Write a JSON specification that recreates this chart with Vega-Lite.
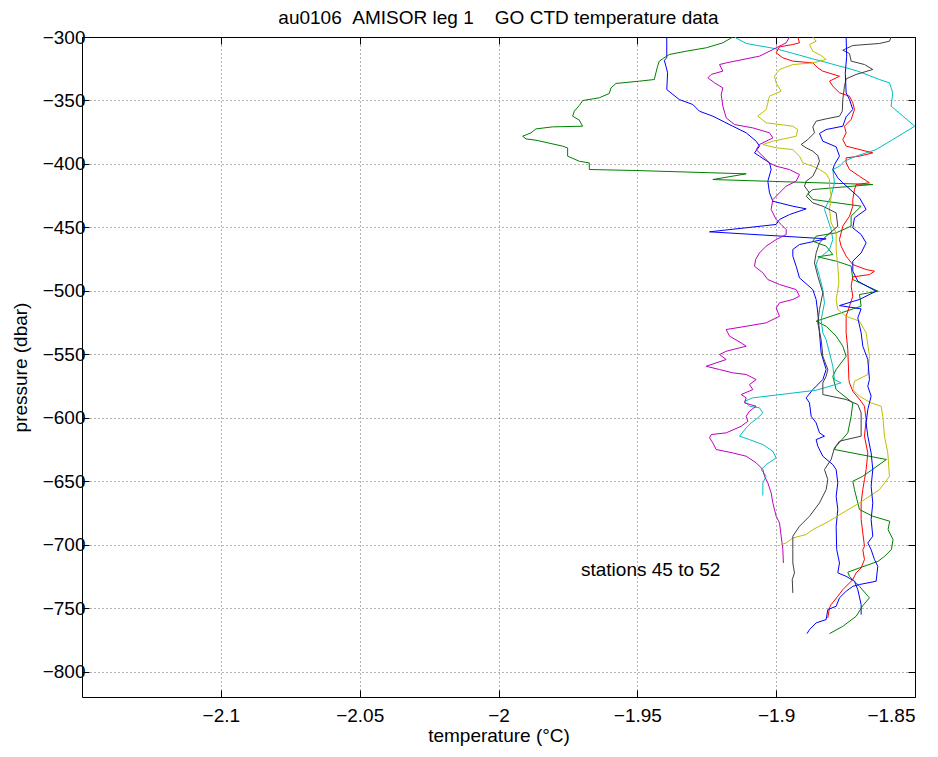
{
 "$schema": "https://vega.github.io/schema/vega-lite/v6.json",
 "width": 833,
 "height": 660,
 "autosize": {"type": "none"},
 "padding": {"left": 82, "top": 37, "right": 23, "bottom": 60},
 "background": "white",
 "config": {
  "view": {"stroke": "black", "strokeWidth": 1},
  "font": "Liberation Sans",
  "axis": {
   "domain": false,
   "tickColor": "black",
   "tickSize": -7,
   "labelColor": "black",
   "labelFontSize": 19,
   "labelFont": "Liberation Sans",
   "titleFont": "Liberation Sans",
   "titleFontSize": 19,
   "titleFontWeight": "normal",
   "titleColor": "black",
   "gridColor": "black",
   "gridDash": [1, 3],
   "gridOpacity": 0.6
  }
 },
 "title": {
  "text": "au0106\u00a0\u00a0AMISOR leg 1\u00a0\u00a0\u00a0\u00a0GO CTD temperature data",
  "fontSize": 19,
  "fontWeight": "normal",
  "font": "Liberation Sans",
  "color": "black",
  "anchor": "middle",
  "baseline": "alphabetic",
  "offset": -15
 },
 "datasets": {
  "ctd": [
{"s":45,"i":1,"t":-1.9394,"p":-300},{"s":45,"i":2,"t":-1.9394,"p":-316.4},{"s":45,"i":3,"t":-1.9403,"p":-318.3},{"s":45,"i":4,"t":-1.9397,"p":-323},{"s":45,"i":5,"t":-1.9391,"p":-328.2},{"s":45,"i":6,"t":-1.9394,"p":-341.4},{"s":45,"i":7,"t":-1.9349,"p":-349.3},{"s":45,"i":8,"t":-1.93,"p":-353.2},{"s":45,"i":9,"t":-1.9276,"p":-358.5},{"s":45,"i":10,"t":-1.9228,"p":-362.4},{"s":45,"i":11,"t":-1.9156,"p":-370.3},{"s":45,"i":12,"t":-1.9108,"p":-375.5},{"s":45,"i":13,"t":-1.9072,"p":-382.1},{"s":45,"i":14,"t":-1.906,"p":-386},{"s":45,"i":15,"t":-1.9078,"p":-391.3},{"s":45,"i":16,"t":-1.906,"p":-393.9},{"s":45,"i":17,"t":-1.9024,"p":-399.2},{"s":45,"i":18,"t":-1.9018,"p":-404.4},{"s":45,"i":19,"t":-1.903,"p":-413.6},{"s":45,"i":20,"t":-1.9024,"p":-422.8},{"s":45,"i":21,"t":-1.9012,"p":-429.4},{"s":45,"i":22,"t":-1.894,"p":-433.3},{"s":45,"i":23,"t":-1.8892,"p":-435.4},{"s":45,"i":24,"t":-1.8952,"p":-439.9},{"s":45,"i":25,"t":-1.8988,"p":-443.8},{"s":45,"i":26,"t":-1.9,"p":-447.7},{"s":45,"i":27,"t":-1.924,"p":-453.5},{"s":45,"i":28,"t":-1.882,"p":-459},{"s":45,"i":29,"t":-1.8916,"p":-463.5},{"s":45,"i":30,"t":-1.894,"p":-467.4},{"s":45,"i":31,"t":-1.894,"p":-472.7},{"s":45,"i":32,"t":-1.8928,"p":-480.6},{"s":45,"i":33,"t":-1.8916,"p":-489.8},{"s":45,"i":34,"t":-1.8868,"p":-499},{"s":45,"i":35,"t":-1.8856,"p":-506.8},{"s":45,"i":36,"t":-1.885,"p":-517.4},{"s":45,"i":37,"t":-1.8844,"p":-533.1},{"s":45,"i":38,"t":-1.8838,"p":-548.9},{"s":45,"i":39,"t":-1.882,"p":-562},{"s":45,"i":40,"t":-1.8832,"p":-569.9},{"s":45,"i":41,"t":-1.8868,"p":-577.8},{"s":45,"i":42,"t":-1.8892,"p":-584.3},{"s":45,"i":43,"t":-1.888,"p":-588.3},{"s":45,"i":44,"t":-1.8874,"p":-598.8},{"s":45,"i":45,"t":-1.8856,"p":-604},{"s":45,"i":46,"t":-1.8844,"p":-611.9},{"s":45,"i":47,"t":-1.8826,"p":-614.5},{"s":45,"i":48,"t":-1.8856,"p":-617.2},{"s":45,"i":49,"t":-1.885,"p":-622.4},{"s":45,"i":50,"t":-1.8832,"p":-630.3},{"s":45,"i":51,"t":-1.8796,"p":-636.9},{"s":45,"i":52,"t":-1.8784,"p":-640.8},{"s":45,"i":53,"t":-1.8778,"p":-651.3},{"s":45,"i":54,"t":-1.8784,"p":-661.8},{"s":45,"i":55,"t":-1.8778,"p":-672.3},{"s":45,"i":56,"t":-1.8784,"p":-685.5},{"s":45,"i":57,"t":-1.8782,"p":-703.8},{"s":45,"i":58,"t":-1.8772,"p":-714.4},{"s":45,"i":59,"t":-1.8778,"p":-722.2},{"s":45,"i":60,"t":-1.8748,"p":-724.9},{"s":45,"i":61,"t":-1.8718,"p":-728.8},{"s":45,"i":62,"t":-1.8706,"p":-735.4},{"s":45,"i":63,"t":-1.8694,"p":-747.2},{"s":45,"i":64,"t":-1.8694,"p":-755.1},
{"s":46,"i":1,"t":-1.9156,"p":-300},{"s":46,"i":2,"t":-1.9192,"p":-304.6},{"s":46,"i":3,"t":-1.9252,"p":-308.5},{"s":46,"i":4,"t":-1.9324,"p":-311.2},{"s":46,"i":5,"t":-1.9385,"p":-313.8},{"s":46,"i":6,"t":-1.9409,"p":-317.2},{"s":46,"i":7,"t":-1.9421,"p":-319},{"s":46,"i":8,"t":-1.9427,"p":-323},{"s":46,"i":9,"t":-1.9433,"p":-328.2},{"s":46,"i":10,"t":-1.9439,"p":-333.5},{"s":46,"i":11,"t":-1.9493,"p":-334.8},{"s":46,"i":12,"t":-1.9577,"p":-336.6},{"s":46,"i":13,"t":-1.9595,"p":-340.1},{"s":46,"i":14,"t":-1.9601,"p":-344.5},{"s":46,"i":15,"t":-1.9637,"p":-347.9},{"s":46,"i":16,"t":-1.9697,"p":-350.1},{"s":46,"i":17,"t":-1.9709,"p":-354},{"s":46,"i":18,"t":-1.9727,"p":-358.4},{"s":46,"i":19,"t":-1.9733,"p":-362.4},{"s":46,"i":20,"t":-1.9709,"p":-365.5},{"s":46,"i":21,"t":-1.9697,"p":-370.3},{"s":46,"i":22,"t":-1.9805,"p":-370.8},{"s":46,"i":23,"t":-1.9865,"p":-372.4},{"s":46,"i":24,"t":-1.9883,"p":-375.5},{"s":46,"i":25,"t":-1.9913,"p":-378.2},{"s":46,"i":26,"t":-1.9901,"p":-380.3},{"s":46,"i":27,"t":-1.9865,"p":-381.3},{"s":46,"i":28,"t":-1.9769,"p":-386},{"s":46,"i":29,"t":-1.9751,"p":-387.4},{"s":46,"i":30,"t":-1.9751,"p":-393.9},{"s":46,"i":31,"t":-1.9709,"p":-397.9},{"s":46,"i":32,"t":-1.9673,"p":-399.2},{"s":46,"i":33,"t":-1.9673,"p":-404.4},{"s":46,"i":34,"t":-1.9505,"p":-405.2},{"s":46,"i":35,"t":-1.9108,"p":-407.8},{"s":46,"i":36,"t":-1.9228,"p":-412.3},{"s":46,"i":37,"t":-1.8652,"p":-416.2},{"s":46,"i":38,"t":-1.8868,"p":-420.2},{"s":46,"i":39,"t":-1.8886,"p":-423.3},{"s":46,"i":40,"t":-1.8868,"p":-428},{"s":46,"i":41,"t":-1.8694,"p":-433.3},{"s":46,"i":42,"t":-1.873,"p":-441.1},{"s":46,"i":43,"t":-1.873,"p":-449},{"s":46,"i":44,"t":-1.8784,"p":-454.3},{"s":46,"i":45,"t":-1.8856,"p":-456.9},{"s":46,"i":46,"t":-1.8868,"p":-460.9},{"s":46,"i":47,"t":-1.882,"p":-464.8},{"s":46,"i":48,"t":-1.8796,"p":-471.4},{"s":46,"i":49,"t":-1.885,"p":-473.2},{"s":46,"i":50,"t":-1.8784,"p":-476.6},{"s":46,"i":51,"t":-1.873,"p":-480.5},{"s":46,"i":52,"t":-1.8724,"p":-491.1},{"s":46,"i":53,"t":-1.8633,"p":-500.3},{"s":46,"i":54,"t":-1.87,"p":-502.9},{"s":46,"i":55,"t":-1.8694,"p":-512.1},{"s":46,"i":56,"t":-1.8856,"p":-523.9},{"s":46,"i":57,"t":-1.882,"p":-527.9},{"s":46,"i":58,"t":-1.8784,"p":-535.7},{"s":46,"i":59,"t":-1.876,"p":-543.6},{"s":46,"i":60,"t":-1.8748,"p":-551.5},{"s":46,"i":61,"t":-1.8784,"p":-562},{"s":46,"i":62,"t":-1.8796,"p":-567.3},{"s":46,"i":63,"t":-1.8784,"p":-577.8},{"s":46,"i":64,"t":-1.8724,"p":-588.3},{"s":46,"i":65,"t":-1.873,"p":-598.8},{"s":46,"i":66,"t":-1.8742,"p":-611.9},{"s":46,"i":67,"t":-1.8784,"p":-622.4},{"s":46,"i":68,"t":-1.879,"p":-625},{"s":46,"i":69,"t":-1.8603,"p":-632.9},{"s":46,"i":70,"t":-1.8688,"p":-646.1},{"s":46,"i":71,"t":-1.8724,"p":-650},{"s":46,"i":72,"t":-1.8718,"p":-656.6},{"s":46,"i":73,"t":-1.87,"p":-672.3},{"s":46,"i":74,"t":-1.8652,"p":-677.6},{"s":46,"i":75,"t":-1.8591,"p":-681.5},{"s":46,"i":76,"t":-1.8597,"p":-688.1},{"s":46,"i":77,"t":-1.8579,"p":-696},{"s":46,"i":78,"t":-1.8585,"p":-703.8},{"s":46,"i":79,"t":-1.8609,"p":-709.1},{"s":46,"i":80,"t":-1.8633,"p":-713.1},{"s":46,"i":81,"t":-1.87,"p":-718.3},{"s":46,"i":82,"t":-1.8742,"p":-721.7},{"s":46,"i":83,"t":-1.8736,"p":-724.9},{"s":46,"i":84,"t":-1.87,"p":-732.8},{"s":46,"i":85,"t":-1.8664,"p":-741.9},{"s":46,"i":86,"t":-1.8688,"p":-748},{"s":46,"i":87,"t":-1.8712,"p":-756.4},{"s":46,"i":88,"t":-1.876,"p":-764.3},{"s":46,"i":89,"t":-1.8808,"p":-770.1},
{"s":47,"i":1,"t":-1.8922,"p":-300},{"s":47,"i":2,"t":-1.8916,"p":-304.6},{"s":47,"i":3,"t":-1.894,"p":-305.9},{"s":47,"i":4,"t":-1.8988,"p":-307.8},{"s":47,"i":5,"t":-1.9,"p":-312.5},{"s":47,"i":6,"t":-1.8976,"p":-316.4},{"s":47,"i":7,"t":-1.894,"p":-319},{"s":47,"i":8,"t":-1.8868,"p":-320.4},{"s":47,"i":9,"t":-1.885,"p":-324.3},{"s":47,"i":10,"t":-1.8832,"p":-326.9},{"s":47,"i":11,"t":-1.8772,"p":-330.9},{"s":47,"i":12,"t":-1.8808,"p":-334.8},{"s":47,"i":13,"t":-1.8796,"p":-338.7},{"s":47,"i":14,"t":-1.8772,"p":-344},{"s":47,"i":15,"t":-1.8736,"p":-346.6},{"s":47,"i":16,"t":-1.8724,"p":-351.9},{"s":47,"i":17,"t":-1.8718,"p":-357.1},{"s":47,"i":18,"t":-1.873,"p":-365},{"s":47,"i":19,"t":-1.8754,"p":-370.3},{"s":47,"i":20,"t":-1.8748,"p":-375.5},{"s":47,"i":21,"t":-1.876,"p":-380.8},{"s":47,"i":22,"t":-1.8748,"p":-386},{"s":47,"i":23,"t":-1.8652,"p":-391.3},{"s":47,"i":24,"t":-1.87,"p":-393.9},{"s":47,"i":25,"t":-1.8748,"p":-395.2},{"s":47,"i":26,"t":-1.8748,"p":-399.2},{"s":47,"i":27,"t":-1.8736,"p":-404.4},{"s":47,"i":28,"t":-1.87,"p":-409.7},{"s":47,"i":29,"t":-1.8664,"p":-414.9},{"s":47,"i":30,"t":-1.8712,"p":-416.2},{"s":47,"i":31,"t":-1.8718,"p":-420.2},{"s":47,"i":32,"t":-1.8724,"p":-428},{"s":47,"i":33,"t":-1.8724,"p":-433.3},{"s":47,"i":34,"t":-1.8736,"p":-441.2},{"s":47,"i":35,"t":-1.876,"p":-449},{"s":47,"i":36,"t":-1.8766,"p":-454.3},{"s":47,"i":37,"t":-1.8772,"p":-459.6},{"s":47,"i":38,"t":-1.8766,"p":-464.8},{"s":47,"i":39,"t":-1.8748,"p":-472.7},{"s":47,"i":40,"t":-1.8724,"p":-479.3},{"s":47,"i":41,"t":-1.8676,"p":-483.2},{"s":47,"i":42,"t":-1.8646,"p":-484.5},{"s":47,"i":43,"t":-1.8664,"p":-487.2},{"s":47,"i":44,"t":-1.8724,"p":-489},{"s":47,"i":45,"t":-1.873,"p":-496.3},{"s":47,"i":46,"t":-1.8724,"p":-504.2},{"s":47,"i":47,"t":-1.8736,"p":-512.1},{"s":47,"i":48,"t":-1.8748,"p":-520},{"s":47,"i":49,"t":-1.8748,"p":-533.1},{"s":47,"i":50,"t":-1.8742,"p":-546.3},{"s":47,"i":51,"t":-1.8738,"p":-569.9},{"s":47,"i":52,"t":-1.8736,"p":-572.5},{"s":47,"i":53,"t":-1.8724,"p":-579.1},{"s":47,"i":54,"t":-1.8694,"p":-587},{"s":47,"i":55,"t":-1.8682,"p":-590.9},{"s":47,"i":56,"t":-1.8676,"p":-601.4},{"s":47,"i":57,"t":-1.8682,"p":-614.5},{"s":47,"i":58,"t":-1.867,"p":-627.7},{"s":47,"i":59,"t":-1.8676,"p":-640.8},{"s":47,"i":60,"t":-1.8682,"p":-648.7},{"s":47,"i":61,"t":-1.8688,"p":-656.6},{"s":47,"i":62,"t":-1.8694,"p":-667.1},{"s":47,"i":63,"t":-1.8694,"p":-680.2},{"s":47,"i":64,"t":-1.8682,"p":-701.2},{"s":47,"i":65,"t":-1.8688,"p":-703.9},{"s":47,"i":66,"t":-1.8682,"p":-711.7},{"s":47,"i":67,"t":-1.8694,"p":-718.3},{"s":47,"i":68,"t":-1.8712,"p":-722.2},{"s":47,"i":69,"t":-1.8724,"p":-727.5},{"s":47,"i":70,"t":-1.876,"p":-735.4},{"s":47,"i":71,"t":-1.8778,"p":-740.6},{"s":47,"i":72,"t":-1.8802,"p":-747.2},{"s":47,"i":73,"t":-1.8808,"p":-749.8},{"s":47,"i":74,"t":-1.8814,"p":-757.7},
{"s":48,"i":1,"t":-1.915,"p":-300},{"s":48,"i":2,"t":-1.9108,"p":-305.1},{"s":48,"i":3,"t":-1.9,"p":-309.3},{"s":48,"i":4,"t":-1.8868,"p":-317.2},{"s":48,"i":5,"t":-1.8748,"p":-324.3},{"s":48,"i":6,"t":-1.8706,"p":-326.9},{"s":48,"i":7,"t":-1.8628,"p":-333.5},{"s":48,"i":8,"t":-1.8592,"p":-336.1},{"s":48,"i":9,"t":-1.858,"p":-344},{"s":48,"i":10,"t":-1.8586,"p":-354.5},{"s":48,"i":11,"t":-1.8543,"p":-362.4},{"s":48,"i":12,"t":-1.8501,"p":-370.3},{"s":48,"i":13,"t":-1.858,"p":-380.8},{"s":48,"i":14,"t":-1.864,"p":-388.7},{"s":48,"i":15,"t":-1.8712,"p":-393.9},{"s":48,"i":16,"t":-1.8754,"p":-397.8},{"s":48,"i":17,"t":-1.8772,"p":-401.8},{"s":48,"i":18,"t":-1.8796,"p":-404.4},{"s":48,"i":19,"t":-1.879,"p":-414.9},{"s":48,"i":20,"t":-1.8802,"p":-425.4},{"s":48,"i":21,"t":-1.8826,"p":-435.9},{"s":48,"i":22,"t":-1.8814,"p":-443.8},{"s":48,"i":23,"t":-1.8802,"p":-451.7},{"s":48,"i":24,"t":-1.8796,"p":-459.6},{"s":48,"i":25,"t":-1.8808,"p":-467.4},{"s":48,"i":26,"t":-1.885,"p":-475.3},{"s":48,"i":27,"t":-1.8856,"p":-479.3},{"s":48,"i":28,"t":-1.8844,"p":-488.5},{"s":48,"i":29,"t":-1.8832,"p":-499},{"s":48,"i":30,"t":-1.8826,"p":-509.5},{"s":48,"i":31,"t":-1.8838,"p":-522.6},{"s":48,"i":32,"t":-1.8832,"p":-533.1},{"s":48,"i":33,"t":-1.882,"p":-538.4},{"s":48,"i":34,"t":-1.8808,"p":-548.9},{"s":48,"i":35,"t":-1.8796,"p":-559.4},{"s":48,"i":36,"t":-1.879,"p":-569.9},{"s":48,"i":37,"t":-1.8766,"p":-572.5},{"s":48,"i":38,"t":-1.8856,"p":-578.3},{"s":48,"i":39,"t":-1.9084,"p":-584.3},{"s":48,"i":40,"t":-1.9114,"p":-587},{"s":48,"i":41,"t":-1.9096,"p":-590.9},{"s":48,"i":42,"t":-1.906,"p":-592.2},{"s":48,"i":43,"t":-1.9048,"p":-596.1},{"s":48,"i":44,"t":-1.9066,"p":-600.1},{"s":48,"i":45,"t":-1.909,"p":-604},{"s":48,"i":46,"t":-1.9108,"p":-608},{"s":48,"i":47,"t":-1.9132,"p":-614.5},{"s":48,"i":48,"t":-1.9096,"p":-617.2},{"s":48,"i":49,"t":-1.9048,"p":-621.1},{"s":48,"i":50,"t":-1.9012,"p":-626.4},{"s":48,"i":51,"t":-1.9,"p":-631.6},{"s":48,"i":52,"t":-1.9036,"p":-636.9},{"s":48,"i":53,"t":-1.9054,"p":-640.8},{"s":48,"i":54,"t":-1.9036,"p":-646.1},{"s":48,"i":55,"t":-1.9048,"p":-651.3},{"s":48,"i":56,"t":-1.9048,"p":-661.3},
{"s":49,"i":1,"t":-1.8952,"p":-300},{"s":49,"i":2,"t":-1.8964,"p":-304.6},{"s":49,"i":3,"t":-1.9012,"p":-309.9},{"s":49,"i":4,"t":-1.906,"p":-315.1},{"s":49,"i":5,"t":-1.918,"p":-320.4},{"s":49,"i":6,"t":-1.9204,"p":-321.7},{"s":49,"i":7,"t":-1.9192,"p":-326.9},{"s":49,"i":8,"t":-1.9234,"p":-329.5},{"s":49,"i":9,"t":-1.9246,"p":-332.2},{"s":49,"i":10,"t":-1.9222,"p":-336.1},{"s":49,"i":11,"t":-1.9192,"p":-340.1},{"s":49,"i":12,"t":-1.9198,"p":-345.3},{"s":49,"i":13,"t":-1.9192,"p":-354.5},{"s":49,"i":14,"t":-1.918,"p":-363.7},{"s":49,"i":15,"t":-1.915,"p":-369},{"s":49,"i":16,"t":-1.9084,"p":-371.6},{"s":49,"i":17,"t":-1.9024,"p":-375.5},{"s":49,"i":18,"t":-1.9012,"p":-379.5},{"s":49,"i":19,"t":-1.906,"p":-384.7},{"s":49,"i":20,"t":-1.9072,"p":-388.7},{"s":49,"i":21,"t":-1.9024,"p":-399.2},{"s":49,"i":22,"t":-1.9,"p":-401.8},{"s":49,"i":23,"t":-1.8952,"p":-404.4},{"s":49,"i":24,"t":-1.8916,"p":-408.4},{"s":49,"i":25,"t":-1.8928,"p":-413.6},{"s":49,"i":26,"t":-1.8964,"p":-417.5},{"s":49,"i":27,"t":-1.8988,"p":-422.8},{"s":49,"i":28,"t":-1.9012,"p":-428.1},{"s":49,"i":29,"t":-1.9018,"p":-435.9},{"s":49,"i":30,"t":-1.9,"p":-443.8},{"s":49,"i":31,"t":-1.8982,"p":-447.7},{"s":49,"i":32,"t":-1.8964,"p":-451.7},{"s":49,"i":33,"t":-1.8964,"p":-455.6},{"s":49,"i":34,"t":-1.9,"p":-459.6},{"s":49,"i":35,"t":-1.9036,"p":-464.8},{"s":49,"i":36,"t":-1.906,"p":-470.1},{"s":49,"i":37,"t":-1.9074,"p":-475.3},{"s":49,"i":38,"t":-1.9078,"p":-480.6},{"s":49,"i":39,"t":-1.9048,"p":-485.8},{"s":49,"i":40,"t":-1.903,"p":-491.1},{"s":49,"i":41,"t":-1.8988,"p":-495},{"s":49,"i":42,"t":-1.8928,"p":-499},{"s":49,"i":43,"t":-1.8916,"p":-504.2},{"s":49,"i":44,"t":-1.894,"p":-506.8},{"s":49,"i":45,"t":-1.8988,"p":-509.5},{"s":49,"i":46,"t":-1.9,"p":-513.4},{"s":49,"i":47,"t":-1.8988,"p":-520},{"s":49,"i":48,"t":-1.9036,"p":-525.2},{"s":49,"i":49,"t":-1.9108,"p":-527.9},{"s":49,"i":50,"t":-1.918,"p":-530.5},{"s":49,"i":51,"t":-1.9168,"p":-535.7},{"s":49,"i":52,"t":-1.9126,"p":-541},{"s":49,"i":53,"t":-1.9108,"p":-543.6},{"s":49,"i":54,"t":-1.918,"p":-547.6},{"s":49,"i":55,"t":-1.9204,"p":-550.2},{"s":49,"i":56,"t":-1.918,"p":-554.1},{"s":49,"i":57,"t":-1.9252,"p":-559.4},{"s":49,"i":58,"t":-1.9204,"p":-562},{"s":49,"i":59,"t":-1.9156,"p":-564.6},{"s":49,"i":60,"t":-1.9108,"p":-565.9},{"s":49,"i":61,"t":-1.9072,"p":-569.9},{"s":49,"i":62,"t":-1.9096,"p":-573.8},{"s":49,"i":63,"t":-1.9084,"p":-577.8},{"s":49,"i":64,"t":-1.9126,"p":-581.7},{"s":49,"i":65,"t":-1.9108,"p":-584.3},{"s":49,"i":66,"t":-1.9114,"p":-588.3},{"s":49,"i":67,"t":-1.9072,"p":-590.9},{"s":49,"i":68,"t":-1.9096,"p":-594.8},{"s":49,"i":69,"t":-1.9108,"p":-598.8},{"s":49,"i":70,"t":-1.9102,"p":-602.7},{"s":49,"i":71,"t":-1.9126,"p":-606.7},{"s":49,"i":72,"t":-1.918,"p":-611.9},{"s":49,"i":73,"t":-1.9234,"p":-613.2},{"s":49,"i":74,"t":-1.924,"p":-615.8},{"s":49,"i":75,"t":-1.9228,"p":-619.8},{"s":49,"i":76,"t":-1.9216,"p":-625},{"s":49,"i":77,"t":-1.9156,"p":-627.7},{"s":49,"i":78,"t":-1.9108,"p":-630.3},{"s":49,"i":79,"t":-1.9072,"p":-635.5},{"s":49,"i":80,"t":-1.9048,"p":-640.8},{"s":49,"i":81,"t":-1.9042,"p":-646.1},{"s":49,"i":82,"t":-1.903,"p":-651.3},{"s":49,"i":83,"t":-1.9018,"p":-659.2},{"s":49,"i":84,"t":-1.9012,"p":-667.1},{"s":49,"i":85,"t":-1.9,"p":-677.6},{"s":49,"i":86,"t":-1.8988,"p":-682.8},{"s":49,"i":87,"t":-1.8982,"p":-693.3},{"s":49,"i":88,"t":-1.8976,"p":-703.8},{"s":49,"i":89,"t":-1.8974,"p":-714.4},
{"s":50,"i":1,"t":-1.8868,"p":-300},{"s":50,"i":2,"t":-1.8856,"p":-303.3},{"s":50,"i":3,"t":-1.888,"p":-305.9},{"s":50,"i":4,"t":-1.8868,"p":-311.2},{"s":50,"i":5,"t":-1.8838,"p":-314.6},{"s":50,"i":6,"t":-1.882,"p":-317.7},{"s":50,"i":7,"t":-1.8868,"p":-320.4},{"s":50,"i":8,"t":-1.894,"p":-321.7},{"s":50,"i":9,"t":-1.8988,"p":-325.6},{"s":50,"i":10,"t":-1.9006,"p":-330.9},{"s":50,"i":11,"t":-1.9,"p":-336.1},{"s":50,"i":12,"t":-1.8982,"p":-342.7},{"s":50,"i":13,"t":-1.9024,"p":-346.6},{"s":50,"i":14,"t":-1.903,"p":-351.9},{"s":50,"i":15,"t":-1.9036,"p":-357.1},{"s":50,"i":16,"t":-1.9066,"p":-362.4},{"s":50,"i":17,"t":-1.9036,"p":-367.6},{"s":50,"i":18,"t":-1.894,"p":-370.3},{"s":50,"i":19,"t":-1.8922,"p":-372.9},{"s":50,"i":20,"t":-1.8928,"p":-378.2},{"s":50,"i":21,"t":-1.9012,"p":-382.1},{"s":50,"i":22,"t":-1.9048,"p":-384.7},{"s":50,"i":23,"t":-1.9,"p":-387.3},{"s":50,"i":24,"t":-1.894,"p":-388.7},{"s":50,"i":25,"t":-1.8916,"p":-393.9},{"s":50,"i":26,"t":-1.8904,"p":-399.2},{"s":50,"i":27,"t":-1.8868,"p":-401.8},{"s":50,"i":28,"t":-1.8844,"p":-404.4},{"s":50,"i":29,"t":-1.882,"p":-407.6},{"s":50,"i":30,"t":-1.8808,"p":-412.3},{"s":50,"i":31,"t":-1.8808,"p":-417.5},{"s":50,"i":32,"t":-1.8802,"p":-425.4},{"s":50,"i":33,"t":-1.8808,"p":-435.9},{"s":50,"i":34,"t":-1.8802,"p":-446.4},{"s":50,"i":35,"t":-1.8784,"p":-454.3},{"s":50,"i":36,"t":-1.8784,"p":-467.4},{"s":50,"i":37,"t":-1.8778,"p":-480.6},{"s":50,"i":38,"t":-1.8774,"p":-493.7},{"s":50,"i":39,"t":-1.8784,"p":-506.8},{"s":50,"i":40,"t":-1.8778,"p":-514.7},{"s":50,"i":41,"t":-1.8748,"p":-520},{"s":50,"i":42,"t":-1.87,"p":-523.9},{"s":50,"i":43,"t":-1.8676,"p":-533.1},{"s":50,"i":44,"t":-1.8664,"p":-551.5},{"s":50,"i":45,"t":-1.867,"p":-566},{"s":50,"i":46,"t":-1.8718,"p":-571.2},{"s":50,"i":47,"t":-1.8724,"p":-577.8},{"s":50,"i":48,"t":-1.87,"p":-583},{"s":50,"i":49,"t":-1.8658,"p":-588.3},{"s":50,"i":50,"t":-1.8622,"p":-590.9},{"s":50,"i":51,"t":-1.8616,"p":-598.8},{"s":50,"i":52,"t":-1.861,"p":-614.5},{"s":50,"i":53,"t":-1.8598,"p":-627.7},{"s":50,"i":54,"t":-1.8592,"p":-646.1},{"s":50,"i":55,"t":-1.8628,"p":-656.6},{"s":50,"i":56,"t":-1.87,"p":-667.1},{"s":50,"i":57,"t":-1.876,"p":-674.9},{"s":50,"i":58,"t":-1.882,"p":-682.8},{"s":50,"i":59,"t":-1.8868,"p":-688.1},{"s":50,"i":60,"t":-1.8892,"p":-692},{"s":50,"i":61,"t":-1.894,"p":-694.7},{"s":50,"i":62,"t":-1.8964,"p":-698.6},{"s":50,"i":63,"t":-1.8982,"p":-699.9},
{"s":51,"i":1,"t":-1.8586,"p":-300},{"s":51,"i":2,"t":-1.8592,"p":-303.3},{"s":51,"i":3,"t":-1.8628,"p":-305.1},{"s":51,"i":4,"t":-1.8724,"p":-306.7},{"s":51,"i":5,"t":-1.876,"p":-310.4},{"s":51,"i":6,"t":-1.8736,"p":-313},{"s":51,"i":7,"t":-1.873,"p":-319},{"s":51,"i":8,"t":-1.8682,"p":-321.7},{"s":51,"i":9,"t":-1.8652,"p":-325.6},{"s":51,"i":10,"t":-1.8712,"p":-329.5},{"s":51,"i":11,"t":-1.8748,"p":-333},{"s":51,"i":12,"t":-1.8754,"p":-338.7},{"s":51,"i":13,"t":-1.876,"p":-349.3},{"s":51,"i":14,"t":-1.8762,"p":-358.5},{"s":51,"i":15,"t":-1.8772,"p":-362.4},{"s":51,"i":16,"t":-1.882,"p":-364.5},{"s":51,"i":17,"t":-1.8856,"p":-366.3},{"s":51,"i":18,"t":-1.8868,"p":-370.8},{"s":51,"i":19,"t":-1.8862,"p":-375.5},{"s":51,"i":20,"t":-1.8886,"p":-380.8},{"s":51,"i":21,"t":-1.891,"p":-384.7},{"s":51,"i":22,"t":-1.8892,"p":-387.3},{"s":51,"i":23,"t":-1.8868,"p":-390},{"s":51,"i":24,"t":-1.885,"p":-393.4},{"s":51,"i":25,"t":-1.8844,"p":-397.8},{"s":51,"i":26,"t":-1.8856,"p":-404.4},{"s":51,"i":27,"t":-1.8868,"p":-409.7},{"s":51,"i":28,"t":-1.8892,"p":-413.6},{"s":51,"i":29,"t":-1.8898,"p":-417.5},{"s":51,"i":30,"t":-1.888,"p":-422.8},{"s":51,"i":31,"t":-1.8892,"p":-425.4},{"s":51,"i":32,"t":-1.8868,"p":-430.7},{"s":51,"i":33,"t":-1.8832,"p":-433.3},{"s":51,"i":34,"t":-1.8784,"p":-438.6},{"s":51,"i":35,"t":-1.8778,"p":-449.1},{"s":51,"i":36,"t":-1.882,"p":-457},{"s":51,"i":37,"t":-1.8844,"p":-462.2},{"s":51,"i":38,"t":-1.8856,"p":-470.1},{"s":51,"i":39,"t":-1.8862,"p":-478},{"s":51,"i":40,"t":-1.885,"p":-488.5},{"s":51,"i":41,"t":-1.8832,"p":-501.6},{"s":51,"i":42,"t":-1.8844,"p":-514.7},{"s":51,"i":43,"t":-1.885,"p":-525.2},{"s":51,"i":44,"t":-1.8838,"p":-538.4},{"s":51,"i":45,"t":-1.8832,"p":-551.5},{"s":51,"i":46,"t":-1.8814,"p":-562},{"s":51,"i":47,"t":-1.882,"p":-567.3},{"s":51,"i":48,"t":-1.8832,"p":-572.5},{"s":51,"i":49,"t":-1.8832,"p":-581.7},{"s":51,"i":50,"t":-1.8748,"p":-585.6},{"s":51,"i":51,"t":-1.8706,"p":-589.6},{"s":51,"i":52,"t":-1.8694,"p":-596.1},{"s":51,"i":53,"t":-1.8694,"p":-614.5},{"s":51,"i":54,"t":-1.8748,"p":-617.2},{"s":51,"i":55,"t":-1.8772,"p":-618.5},{"s":51,"i":56,"t":-1.879,"p":-623.7},{"s":51,"i":57,"t":-1.8802,"p":-632.9},{"s":51,"i":58,"t":-1.8826,"p":-640.8},{"s":51,"i":59,"t":-1.8814,"p":-648.7},{"s":51,"i":60,"t":-1.882,"p":-656.6},{"s":51,"i":61,"t":-1.8844,"p":-667.1},{"s":51,"i":62,"t":-1.888,"p":-677.6},{"s":51,"i":63,"t":-1.8916,"p":-685.5},{"s":51,"i":64,"t":-1.894,"p":-693.3},{"s":51,"i":65,"t":-1.894,"p":-703.8},{"s":51,"i":66,"t":-1.894,"p":-714.4},{"s":51,"i":67,"t":-1.8934,"p":-722.2},{"s":51,"i":68,"t":-1.8942,"p":-727.5},{"s":51,"i":69,"t":-1.894,"p":-738},
{"s":52,"i":1,"t":-1.8748,"p":-300},{"s":52,"i":2,"t":-1.8746,"p":-315.1},{"s":52,"i":3,"t":-1.8751,"p":-328.2},{"s":52,"i":4,"t":-1.8748,"p":-344},{"s":52,"i":5,"t":-1.8736,"p":-349.3},{"s":52,"i":6,"t":-1.8724,"p":-357.1},{"s":52,"i":7,"t":-1.8748,"p":-362.9},{"s":52,"i":8,"t":-1.876,"p":-370.3},{"s":52,"i":9,"t":-1.882,"p":-372.9},{"s":52,"i":10,"t":-1.8844,"p":-376},{"s":52,"i":11,"t":-1.8832,"p":-382.1},{"s":52,"i":12,"t":-1.8784,"p":-386.5},{"s":52,"i":13,"t":-1.8772,"p":-393.9},{"s":52,"i":14,"t":-1.879,"p":-400.5},{"s":52,"i":15,"t":-1.8796,"p":-404.4},{"s":52,"i":16,"t":-1.8778,"p":-411},{"s":52,"i":17,"t":-1.876,"p":-414.9},{"s":52,"i":18,"t":-1.87,"p":-426.7},{"s":52,"i":19,"t":-1.8676,"p":-435.9},{"s":52,"i":20,"t":-1.8718,"p":-442.5},{"s":52,"i":21,"t":-1.8724,"p":-450.4},{"s":52,"i":22,"t":-1.8694,"p":-455.6},{"s":52,"i":23,"t":-1.8676,"p":-462.2},{"s":52,"i":24,"t":-1.8694,"p":-470.1},{"s":52,"i":25,"t":-1.8724,"p":-476.6},{"s":52,"i":26,"t":-1.8724,"p":-484.5},{"s":52,"i":27,"t":-1.8706,"p":-492.4},{"s":52,"i":28,"t":-1.864,"p":-500.3},{"s":52,"i":29,"t":-1.87,"p":-506.8},{"s":52,"i":30,"t":-1.8772,"p":-511.6},{"s":52,"i":31,"t":-1.8694,"p":-514.2},{"s":52,"i":32,"t":-1.8706,"p":-521.3},{"s":52,"i":33,"t":-1.8694,"p":-533.1},{"s":52,"i":34,"t":-1.8688,"p":-543.6},{"s":52,"i":35,"t":-1.867,"p":-554.1},{"s":52,"i":36,"t":-1.8664,"p":-569.9},{"s":52,"i":37,"t":-1.867,"p":-575.1},{"s":52,"i":38,"t":-1.8658,"p":-583},{"s":52,"i":39,"t":-1.867,"p":-593.5},{"s":52,"i":40,"t":-1.8676,"p":-604},{"s":52,"i":41,"t":-1.867,"p":-614.5},{"s":52,"i":42,"t":-1.8658,"p":-627.7},{"s":52,"i":43,"t":-1.8652,"p":-640.8},{"s":52,"i":44,"t":-1.8658,"p":-653.9},{"s":52,"i":45,"t":-1.8652,"p":-667.1},{"s":52,"i":46,"t":-1.8658,"p":-680.2},{"s":52,"i":47,"t":-1.8652,"p":-693.3},{"s":52,"i":48,"t":-1.867,"p":-698.6},{"s":52,"i":49,"t":-1.8658,"p":-703.9},{"s":52,"i":50,"t":-1.8646,"p":-711.7},{"s":52,"i":51,"t":-1.8634,"p":-717},{"s":52,"i":52,"t":-1.864,"p":-728.8},{"s":52,"i":53,"t":-1.87,"p":-731.4},{"s":52,"i":54,"t":-1.8724,"p":-732.8},{"s":52,"i":55,"t":-1.8748,"p":-736.7},{"s":52,"i":56,"t":-1.8772,"p":-741.9},{"s":52,"i":57,"t":-1.8784,"p":-748.5},{"s":52,"i":58,"t":-1.8814,"p":-751.1},{"s":52,"i":59,"t":-1.882,"p":-759},{"s":52,"i":60,"t":-1.8856,"p":-761.6},{"s":52,"i":61,"t":-1.888,"p":-766.9},{"s":52,"i":62,"t":-1.8889,"p":-770.1}
  ],
  "note": [{"label": "stations 45 to 52", "t": -1.9703, "p": -720.2}]
 },
 "layer": [
  {
   "data": {"name": "ctd"},
   "mark": {"type": "line", "strokeWidth": 1, "clip": true},
   "encoding": {
    "x": {"field": "t", "type": "quantitative",
     "scale": {"domain": [-2.15, -1.85], "nice": false, "zero": false},
     "axis": {"values": [-2.1, -2.05, -2, -1.95, -1.9, -1.85], "format": ".2~f", "title": "temperature (\u00b0C)", "grid": true, "labelPadding": 16, "titlePadding": 1}},
    "y": {"field": "p", "type": "quantitative",
     "scale": {"domain": [-820, -300], "nice": false, "zero": false},
     "axis": {"values": [-300, -350, -400, -450, -500, -550, -600, -650, -700, -750, -800], "title": "pressure (dbar)", "grid": true, "labelPadding": 4, "titlePadding": 12}},
    "color": {"field": "s", "type": "nominal",
     "scale": {"domain": [45, 46, 47, 48, 49, 50, 51, 52], "range": ["#0000ff", "#008000", "#ff0000", "#00bfbf", "#bf00bf", "#bfbf00", "#404040", "#0000ff"]},
     "legend": null},
    "order": {"field": "i", "type": "quantitative"}
   }
  },
  {
   "data": {"name": "note"},
   "mark": {"type": "text", "align": "left", "baseline": "middle", "fontSize": 19, "font": "Liberation Sans", "color": "black"},
   "encoding": {
    "x": {"field": "t", "type": "quantitative",
     "axis": {"orient": "top", "values": [-2.1, -2.05, -2, -1.95, -1.9, -1.85], "labels": false, "title": null, "grid": false}},
    "y": {"field": "p", "type": "quantitative",
     "axis": {"orient": "right", "values": [-300, -350, -400, -450, -500, -550, -600, -650, -700, -750, -800], "labels": false, "title": null, "grid": false}},
    "text": {"field": "label"}
   }
  }
 ],
 "resolve": {"axis": {"x": "independent", "y": "independent"}}
}
